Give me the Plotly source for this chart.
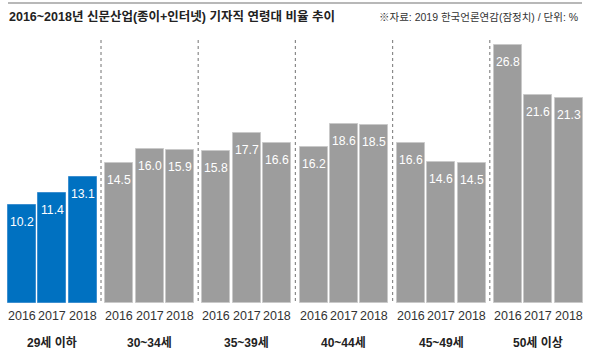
import plotly.graph_objects as go

groups = ["29세 이하", "30~34세", "35~39세", "40~44세", "45~49세", "50세 이상"]
years = ["2016", "2017", "2018"]
values = [
    [10.2, 11.4, 13.1],
    [14.5, 16.0, 15.9],
    [15.8, 17.7, 16.6],
    [16.2, 18.6, 18.5],
    [16.6, 14.6, 14.5],
    [26.8, 21.6, 21.3],
]
title_text = "2016~2018년 신문산업(종이+인터넷) 기자직 연령대 비율 추이"
source_text = "※자료: 2019 한국언론연감(잠정치) / 단위: %"

GP = 3.197  # group pitch in bar units
BLUE = "#0071C1"
GRAY = "#9D9D9D"
FONT = "Liberation Sans, Noto Sans CJK KR, sans-serif"

W, H = 591, 356
MT, MB = 30, 53

def py(v):
    """pixel y from top -> paper fraction"""
    return (H - v - MB) / (H - MT - MB)

def px(v):
    return v / W

xs, ys, cols, lines_c, labels = [], [], [], [], []
for g, vals in enumerate(values):
    for j, v in enumerate(vals):
        xs.append(g * GP + j)
        ys.append(v)
        cols.append(BLUE if g == 0 else GRAY)
        lines_c.append("#3d8fd0" if g == 0 else "#c9c9c9")
        labels.append(f"{v:.1f}")

fig = go.Figure()
fig.add_trace(go.Bar(
    x=xs, y=ys, width=0.92,
    marker=dict(color=cols, line=dict(color=lines_c, width=1)),
    hoverinfo="skip",
))

annotations = []
for x, y, t in zip(xs, ys, labels):
    annotations.append(dict(x=x, y=y, xref="x", yref="y", text=t, showarrow=False,
                            yanchor="top", yshift=-8,
                            font=dict(family=FONT, size=12.2, color="white")))
for g in range(len(groups)):
    for j, yr in enumerate(years):
        annotations.append(dict(x=g * GP + j, y=0, xref="x", yref="y", text=yr, showarrow=False,
                                yanchor="middle", yshift=-13,
                                font=dict(family=FONT, size=12.5, color="#333333")))
    annotations.append(dict(x=g * GP + 1, y=0, xref="x", yref="y", text="<b>" + groups[g] + "</b>",
                            showarrow=False, yanchor="middle", yshift=-40,
                            font=dict(family=FONT, size=12, color="#222222")))

annotations.append(dict(x=px(7), y=py(17), xref="paper", yref="paper", text="<b>" + title_text + "</b>",
                        showarrow=False, xanchor="left", yanchor="middle",
                        font=dict(family=FONT, size=12.5, color="#222222")))
annotations.append(dict(x=px(580), y=py(17), xref="paper", yref="paper", text=source_text,
                        showarrow=False, xanchor="right", yanchor="middle",
                        font=dict(family=FONT, size=10.5, color="#333333")))

shapes = [dict(type="line", xref="paper", yref="paper", x0=px(8), x1=px(582), y0=py(3), y1=py(3),
               line=dict(color="#a0a0a0", width=1.5))]
for g in range(1, len(groups)):
    xsep = (g - 1) * GP + 2 + (GP - 2) / 2
    shapes.append(dict(type="line", xref="x", yref="y", x0=xsep, x1=xsep, y0=27.3, y1=-2.0,
                       line=dict(color="#8a8a8a", width=1.2, dash="dot")))

fig.update_layout(
    width=W, height=H,
    margin=dict(l=0, r=0, t=MT, b=MB),
    paper_bgcolor="white", plot_bgcolor="white",
    showlegend=False,
    bargap=0,
    xaxis=dict(range=[-0.724, 18.716], visible=False, fixedrange=True),
    yaxis=dict(range=[0, 28.35], visible=False, fixedrange=True),
    annotations=annotations,
    shapes=shapes,
)

fig.write_html("out.html", config={"displayModeBar": False},
               post_script="document.body.style.margin='0';document.body.style.overflow='hidden';")
